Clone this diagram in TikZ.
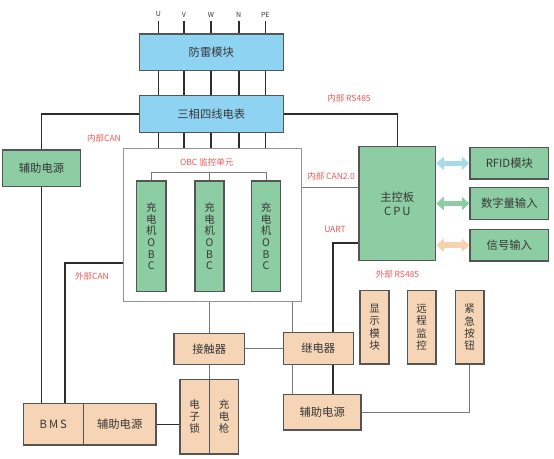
\documentclass[tikz,border=0pt]{standalone}
\usepackage{fontspec}
\setmainfont{Noto Sans CJK SC}
\usetikzlibrary{arrows.meta}
\definecolor{bluefill}{RGB}{143,211,243}
\definecolor{greenfill}{RGB}{141,205,163}
\definecolor{peachfill}{RGB}{245,213,181}
\definecolor{arrblue}{RGB}{166,220,234}
\definecolor{arrgreen}{RGB}{140,205,162}
\definecolor{arrpeach}{RGB}{245,210,176}
\definecolor{boxline}{RGB}{85,85,85}
\definecolor{txt}{RGB}{55,55,55}
\definecolor{redtxt}{RGB}{240,85,85}
\definecolor{thickc}{RGB}{45,45,45}
\definecolor{thinc}{RGB}{120,120,120}
\begin{document}
\begin{tikzpicture}[x=1pt,y=-1pt,
  box/.style={draw=boxline,line width=1.2pt,inner sep=0pt,text=txt,font=\fontsize{11.3}{12}\selectfont},
  bluebox/.style={box,fill=bluefill},
  greenbox/.style={box,fill=greenfill},
  peachbox/.style={box,fill=peachfill},
  vtext/.style={align=center,font=\fontsize{10.5}{11.7}\selectfont},
  container/.style={draw=thinc!80,line width=1pt,fill=white,inner sep=0pt},
  thickln/.style={draw=thickc,line width=1.6pt},
  thinln/.style={draw=thinc,line width=1pt},
  redlbl/.style={text=redtxt,font=\fontsize{8.5}{10}\selectfont,inner sep=0pt},
  phlbl/.style={text=txt,font=\fontsize{7}{8}\selectfont,inner sep=0pt},
  dblarr/.style={line width=5.5pt,{Triangle[width=13pt,length=7.5pt]}-{Triangle[width=13pt,length=7.5pt]}}
]
\useasboundingbox (0,0) rectangle (554,458);

% top modules
\node[bluebox,minimum width=144pt,minimum height=36.7pt] (flm) at (211.3,52.3) {防雷模块};
\node[bluebox,minimum width=144pt,minimum height=37pt] (meter) at (211.3,113.8) {三相四线电表};

% OBC container
\node[container,minimum width=178.4pt,minimum height=152.7pt] (cont) at (212.5,225.3) {};
\node[greenbox,minimum width=29.3pt,minimum height=110.7pt,vtext] (obc1) at (151.3,236.3) {充\\电\\机\\O\\B\\C};
\node[greenbox,minimum width=29pt,minimum height=110.7pt,vtext] (obc2) at (209.5,236.3) {充\\电\\机\\O\\B\\C};
\node[greenbox,minimum width=29.4pt,minimum height=110.7pt,vtext] (obc3) at (266,236.3) {充\\电\\机\\O\\B\\C};
\node[redlbl] (obclbl) at (206.7,162.7) {OBC 监控单元};
\coordinate (tree) at (209.5,172.3);
\draw[thinln] (obc1.north) |- (tree) -| (obc3.north);
\draw[thinln] (obc2.north) -- (tree);

% phase lines
\foreach \n/\x/\t in {pu/158.5/U,pv/184/V,pw/211/W,pn/238.7/N,ppe/265.3/PE}{
  \coordinate (\n) at (\x,20.7);
  \node[phlbl,above=3.5pt] (\n l) at (\n) {\t};
  \draw[thickln] (\n) -- (\n |- flm.north);
  \draw[thickln] (\n |- flm.south) -- (\n |- meter.north);
  \draw[thickln] (\n |- meter.south) -- (\n |- cont.north);
}

% left side
\node[greenbox,minimum width=78.6pt,minimum height=36.7pt] (aux1) at (41.5,168.3) {辅助电源};
\node[peachbox,minimum width=60pt,minimum height=41.7pt] (bms) at (53.3,424.2) {B\,M\,S};
\node[peachbox,minimum width=72.7pt,minimum height=41.7pt] (aux2) at (119.7,424.2) {辅助电源};
\draw[thickln] (meter.west) -| (aux1.north);
\draw[thickln] (aux1.south) -- (aux1.south |- bms.north);
\draw[thickln] ([yshift=-37.4pt]cont.west) -| ([xshift=11.7pt]bms.north);
\node[redlbl] (icanlbl) at (104,138.3) {内部CAN};
\node[redlbl] (ecanlbl) at (92,276.7) {外部CAN};

% CPU and right side
\node[greenbox,minimum width=76.7pt,minimum height=113.6pt,align=center,font=\fontsize{11.3}{13.7}\selectfont] (cpu) at (397.3,203.5) {主控板\\C\,P\,U};
\node[greenbox,minimum width=78.7pt,minimum height=31.3pt] (rfid) at (509.3,163.3) {RFID模块};
\node[greenbox,minimum width=78.7pt,minimum height=31.6pt] (digi) at (509.3,203.5) {数字量输入};
\node[greenbox,minimum width=78.7pt,minimum height=31.7pt] (sig) at (509.3,245.2) {信号输入};
\draw[dblarr,arrblue] (cpu.east |- rfid.west) -- (rfid.west);
\draw[dblarr,arrgreen] (cpu.east |- digi.west) -- (digi.west);
\draw[dblarr,arrpeach] (cpu.east |- sig.west) -- (sig.west);
\draw[thickln] (meter.east) -| (cpu.north);
\node[redlbl] (rs485lbl) at (349,98.3) {内部 RS485};
\draw[thinln] ([yshift=15.8pt]cpu.west) -- ([yshift=15.8pt]cpu.west -| cont.east);
\node[redlbl] (can2lbl) at (331,176) {内部 CAN2.0};
\node[redlbl] (uartlbl) at (335,229.3) {UART};
\node[redlbl] (ers485lbl) at (397.5,274.3) {外部 RS485};

% bottom
\node[peachbox,minimum width=70.3pt,minimum height=31pt] (jcq) at (209.2,348.8) {接触器};
\node[peachbox,minimum width=70pt,minimum height=31.6pt] (jdq) at (318.3,348.5) {继电器};
\node[peachbox,minimum width=29.3pt,minimum height=74.7pt,vtext,font=\fontsize{10.5}{12}\selectfont] (dzs) at (194.7,416.7) {电\\子\\锁};
\node[peachbox,minimum width=29.4pt,minimum height=74.7pt,vtext,font=\fontsize{10.5}{12}\selectfont] (cdq) at (224,416.7) {充\\电\\枪};
\node[peachbox,minimum width=77.7pt,minimum height=35.7pt] (aux3) at (322.2,412.2) {辅助电源};
\node[peachbox,minimum width=29pt,minimum height=73.3pt,vtext,font=\fontsize{10.5}{12.3}\selectfont] (xs) at (374.5,327.3) {显\\示\\模\\块};
\node[peachbox,minimum width=28.7pt,minimum height=73.3pt,vtext,font=\fontsize{10.5}{12.3}\selectfont] (yc) at (421.7,327.3) {远\\程\\监\\控};
\node[peachbox,minimum width=28.7pt,minimum height=73.3pt,vtext,font=\fontsize{10.5}{12.3}\selectfont] (jj) at (469.7,327.3) {紧\\急\\按\\钮};

\draw[thickln] ([yshift=-39.2pt]cpu.west) -| ([xshift=14.4pt]jdq.north);
\draw[thickln] ([xshift=14.4pt]jdq.south) -- ([xshift=14.4pt]jdq.south |- aux3.north);
\draw[thinln] (jcq.north) -- (jcq.north |- cont.south);
\draw[thinln] (jcq.south) -- (jcq.south |- dzs.north);
\draw[thinln] (jcq.east) -- (jcq.east -| jdq.west);
\draw[thinln] ([xshift=-25.6pt]jdq.north) -- ([xshift=-25.6pt]jdq.north |- cont.south);
\draw[thinln] ([xshift=-25.6pt]jdq.south) -- ([xshift=-25.6pt]jdq.south |- aux3.north);
\draw[thinln,draw=thickc] (aux2.east) -- (aux2.east -| dzs.west);
\draw[thinln] (jj.south) |- (aux3.east);
\end{tikzpicture}
\end{document}
